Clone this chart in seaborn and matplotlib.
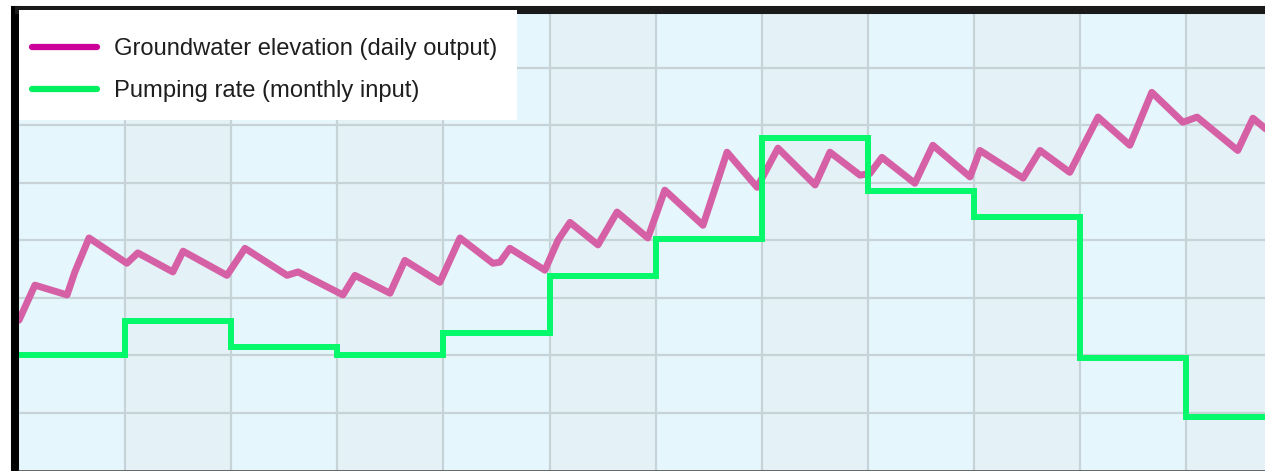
import matplotlib
matplotlib.use("Agg")
import matplotlib.pyplot as plt
from matplotlib.lines import Line2D
from matplotlib.patches import Rectangle
import numpy as np
import pandas as pd
import seaborn as sns

# Simulated groundwater elevation (daily model output), sampled at turning points
gw_day = [0, 4.5, 13.6, 15.8, 19.8, 30.5, 33.6, 43.5, 46.4, 58.8, 63.9, 75.8, 78.9,
          91.6, 95.0, 104.9, 109.1, 119.0, 124.7, 134.0, 136.0, 138.8, 148.7, 152.4,
          155.8, 163.7, 169.1, 177.8, 182.6, 193.4, 200.2, 208.7, 214.6, 225.1, 229.3,
          237.8, 240.6, 244.0, 253.3, 258.4, 268.9, 271.7, 283.9, 288.7, 297.1, 305.1,
          314.1, 320.3, 329.1, 333.1, 344.6, 348.9, 353.0]
gw_level = [2.61, 3.22, 3.05, 3.45, 4.04, 3.60, 3.78, 3.45, 3.81, 3.39, 3.86, 3.39, 3.45,
            3.05, 3.39, 3.08, 3.65, 3.27, 4.04, 3.60, 3.62, 3.86, 3.48, 4.00,
            4.31, 3.92, 4.49, 4.04, 4.87, 4.26, 5.53, 4.92, 5.60, 4.96, 5.53,
            5.13, 5.16, 5.44, 4.99, 5.65, 5.10, 5.56, 5.08, 5.56, 5.18, 6.14,
            5.65, 6.57, 6.05, 6.14, 5.56, 6.12, 5.91]

# Pumping rate (monthly model input), one value per month
pump_month = list(range(12))
pump_rate = [2.00, 2.60, 2.15, 2.00, 2.39, 3.38, 4.02, 5.77, 4.85, 4.40, 1.95, 0.93]

labels = ["Groundwater elevation (daily output)", "Pumping rate (monthly input)"]

DAYS_PER_MONTH = 30
gw = pd.DataFrame({"day": gw_day, "level": gw_level})
pump = pd.DataFrame({
    "day": [m * DAYS_PER_MONTH for m in pump_month] + [12 * DAYS_PER_MONTH],
    "rate": pump_rate + [pump_rate[-1]],
})

sns.set_style("white")
plt.rcParams["font.family"] = ["Liberation Sans", "DejaVu Sans"]

W, H = 1265, 471
fig = plt.figure(figsize=(W / 100, H / 100), dpi=100)
fig.patch.set_facecolor("white")
left_px, top_px, bottom_px = 19, 10, 0.5
ax_w_px, ax_h_px = W - left_px, H - top_px - bottom_px
ax = fig.add_axes([left_px / W, bottom_px / H, ax_w_px / W, ax_h_px / H])

x_max = ax_w_px / (106.1 / DAYS_PER_MONTH)
ax.set_xlim(0, x_max)
ax.set_ylim(0, 8)

# alternating monthly bands
light, shaded = "#e5f7fd", "#e4f1f6"
ax.set_facecolor(light)
for m in range(12):
    if m % 2 == 1:
        ax.axvspan(m * DAYS_PER_MONTH, (m + 1) * DAYS_PER_MONTH, color=shaded, lw=0, zorder=0)

ax.set_xticks([m * DAYS_PER_MONTH for m in range(1, 12)])
ax.set_yticks(range(1, 8))
ax.grid(True, color="#c8d3d7", lw=1.6, zorder=1)
ax.set_axisbelow(True)
ax.tick_params(length=0, labelbottom=False, labelleft=False)

sns.lineplot(data=gw, x="day", y="level", ax=ax, color="#d660a6", lw=5.0,
             solid_joinstyle="round", solid_capstyle="round", zorder=3, legend=False)
sns.lineplot(data=pump, x="day", y="rate", ax=ax, color="#05f96b", lw=4.3,
             drawstyle="steps-post", solid_joinstyle="miter", zorder=4, legend=False)
ax.set_xlabel("")
ax.set_ylabel("")

ax.spines["right"].set_visible(False)
ax.spines["left"].set_color("black")
ax.spines["left"].set_linewidth(5.8)
ax.spines["left"].set_position(("outward", 3.0))
ax.spines["top"].set_color("#1a1a1a")
ax.spines["top"].set_linewidth(5.8)
ax.spines["bottom"].set_color("#505050")
ax.spines["bottom"].set_linewidth(1.2)

# white legend panel in the upper-left corner
panel_w = (517 - left_px) / ax_w_px
panel_h = (120 - top_px) / ax_h_px
ax.add_patch(Rectangle((0, 1 - panel_h), panel_w, panel_h, transform=ax.transAxes,
                       facecolor="white", edgecolor="none", zorder=9, clip_on=False))

handles = [
    Line2D([0], [0], color="#cc0099", lw=4.5),
    Line2D([0], [0], color="#00f060", lw=4.5),
]
fs = 17.1
leg = ax.legend(handles, labels, loc="upper left",
                bbox_to_anchor=((32 - left_px) / ax_w_px, 1 - (38 - top_px) / ax_h_px),
                borderaxespad=0, borderpad=0, fontsize=fs, frameon=False,
                handlelength=2.72, handletextpad=0.74, labelspacing=0.85)
for t in leg.get_texts():
    t.set_color("#1e1e1e")
leg.set_zorder(10)

fig.savefig("out.png", dpi=100, facecolor="white")
